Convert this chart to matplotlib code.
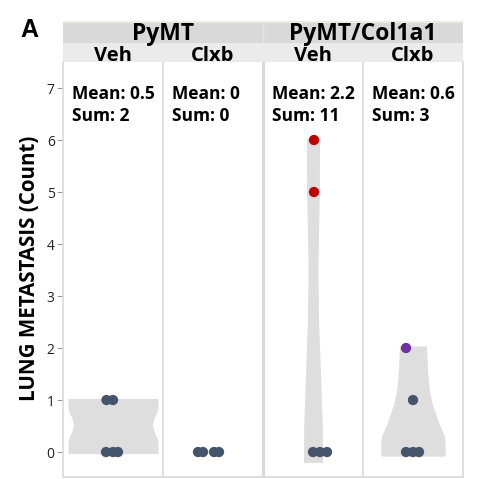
import numpy as np
import matplotlib
matplotlib.use('Agg')
import matplotlib.pyplot as plt
from matplotlib.patches import Rectangle

plt.rcParams['font.family'] = ['Open Sans', 'DejaVu Sans']

# Daten
strains = ['PyMT', 'PyMT/Col1a1']
treatments = ['Veh', 'Clxb', 'Veh', 'Clxb']
mean_labels = ['0.5', '0', '2.2', '0.6']
sum_labels = ['2', '0', '11', '3']

# Einzelwerte pro Gruppe (Anzahl Metastasen) + seitlicher Versatz der Punkte
veh_pymt = [0, 0, 0, 1, 1]
veh_pymt_jit = [-0.07, 0.0, 0.05, -0.065, 0.0]
clxb_pymt = [0, 0, 0, 0]
clxb_pymt_jit = [-0.15, -0.10, 0.01, 0.06]
veh_col = [0, 0, 0, 5, 6]
veh_col_jit = [0.0, 0.07, 0.14, 0.01, 0.01]
clxb_col = [0, 0, 0, 1, 2]
clxb_col_jit = [-0.07, 0.0, 0.06, 0.0, -0.07]

vio1_y = [-0.03, 0.2, 0.3, 0.4, 0.52, 0.65, 0.75, 0.85, 1.03]
vio1_w = [0.45, 0.45, 0.435, 0.41, 0.395, 0.41, 0.435, 0.45, 0.45]
vio3_y = [-0.2, 0.5, 1.5, 2.5, 3.5, 4.2, 5.0, 6.03]
vio3_w = [0.095, 0.093, 0.075, 0.056, 0.05, 0.055, 0.064, 0.065]
vio4_y = [-0.08, -0.03, 0.29, 0.55, 0.94, 1.19, 1.58, 1.96, 2.04]
vio4_w = [0.31, 0.325, 0.317, 0.26, 0.19, 0.163, 0.145, 0.137, 0.135]

dot_blue = '#44546a'
dot_red = '#c00000'
dot_purple = '#7030a0'
grid_col = '#d9d9d9'

fig = plt.figure(figsize=(4.8, 4.79), dpi=100)
W, H = 480, 479

ax = fig.add_axes([63 / W, (H - 477) / H, 400 / W, 415 / H])
ax.set_xlim(0, 4)
ax.set_ylim(-0.48, 7.5)

# Violins
violins = [(0.5, vio1_y, vio1_w), (2.5, vio3_y, vio3_w), (3.5, vio4_y, vio4_w)]
for cx, vy, vw in violins:
    yy = np.linspace(vy[0], vy[-1], 200)
    ww = np.interp(yy, vy, vw)
    ax.fill_betweenx(yy, cx - ww, cx + ww, color='#dedede', lw=0, zorder=1)

# Punkte
groups = [(0.5, veh_pymt, veh_pymt_jit), (1.5, clxb_pymt, clxb_pymt_jit),
          (2.5, veh_col, veh_col_jit), (3.5, clxb_col, clxb_col_jit)]
for cx, vals, jit in groups:
    cols = []
    for v in vals:
        if cx == 2.5 and v >= 5:
            cols.append(dot_red)
        elif cx == 3.5 and v == 2:
            cols.append(dot_purple)
        else:
            cols.append(dot_blue)
    ax.scatter(np.array(jit) + cx, vals, s=55, c=cols, lw=0, zorder=3)

# Trennlinien
for x in [1, 3]:
    ax.axvline(x, color=grid_col, lw=1.2, zorder=0)
ax.axvline(2, color=grid_col, lw=2.2, zorder=0)

# Mean/Sum Texte
for i in range(4):
    ax.text(i + 0.085, 6.78, 'Mean: ' + mean_labels[i], fontsize=12.5,
            fontweight='bold', ha='left', va='baseline')
    ax.text(i + 0.085, 6.37, 'Sum: ' + sum_labels[i], fontsize=12.5,
            fontweight='bold', ha='left', va='baseline')

ax.set_xticks([])
ax.set_yticks(range(8))
ax.tick_params(axis='y', length=4, color='#999999', labelsize=10,
               labelcolor='#222222', pad=2)
for s in ax.spines.values():
    s.set_color(grid_col)
    s.set_linewidth(1.2)
ax.spines['top'].set_visible(False)

# Kopfzeilen
hx = fig.add_axes([63 / W, (H - 62) / H, 400 / W, 41 / H])
hx.set_xlim(0, 4)
hx.set_ylim(0, 41)
hx.axis('off')
hx.add_patch(Rectangle((0, 0), 4, 19, color='#ebebeb', lw=0))
hx.add_patch(Rectangle((0, 19), 4, 20, color='#d9d9d9', lw=0))
hx.add_patch(Rectangle((0, 39), 4, 2, color='#ededdf', lw=0))
hx.plot([2, 2], [19, 39], color='#e6e6e6', lw=1)
for j, st in enumerate(strains):
    hx.text(2 * j + 1, 22.5, st, fontsize=16.5, fontweight='bold',
            ha='center', va='baseline')
for i, tr in enumerate(treatments):
    hx.text(i + 0.5, 1.0, tr, fontsize=14.5, fontweight='bold',
            ha='center', va='baseline')

fig.text(30 / W, (H - 268) / H, 'LUNG METASTASIS (Count)', rotation=90,
         fontsize=14.8, fontweight='bold', ha='center', va='center')
fig.text(29.5 / W, (H - 30) / H, 'A', fontsize=18, fontweight='bold',
         family='Liberation Sans', ha='center', va='center')

fig.savefig('out.png', dpi=100)
